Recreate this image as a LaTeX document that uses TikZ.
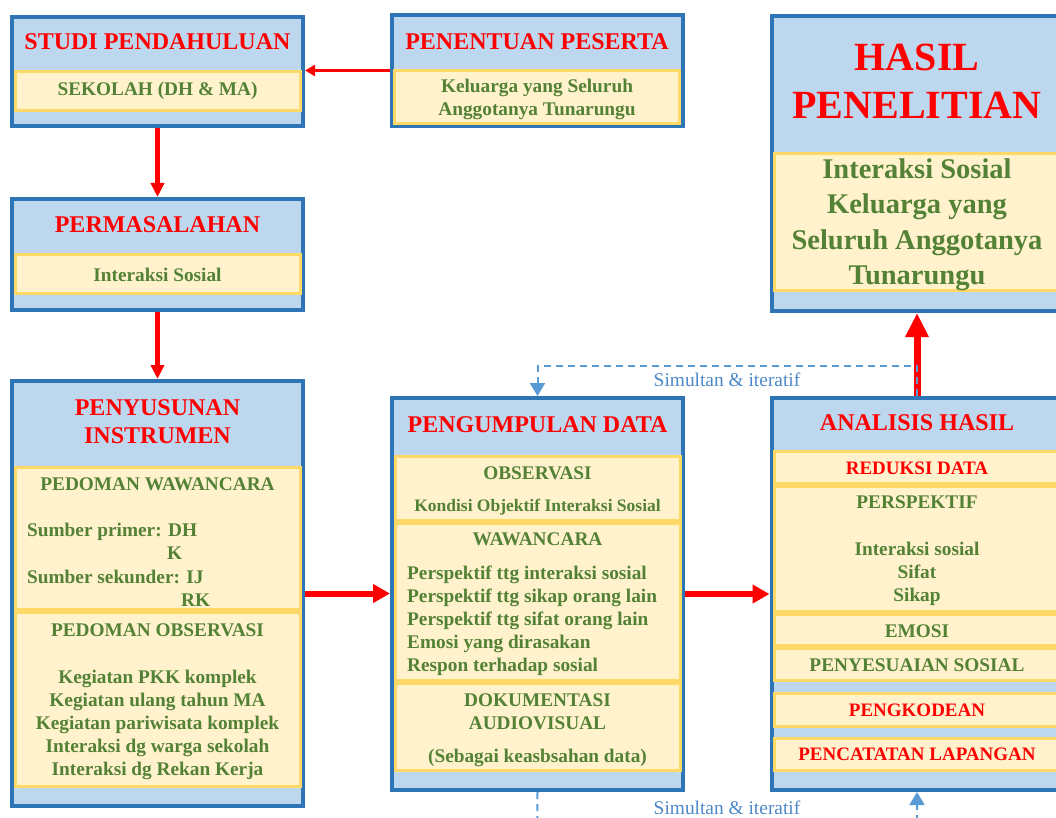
\documentclass[tikz,border=0pt]{standalone}
\usepackage{fontspec}
\setmainfont{Liberation Serif}
\usetikzlibrary{arrows.meta}
\definecolor{boxblue}{HTML}{BDD7EE}
\definecolor{edgeblue}{HTML}{2E75B6}
\definecolor{paleyellow}{HTML}{FFF2CC}
\definecolor{goldedge}{HTML}{FFD966}
\definecolor{txtgreen}{HTML}{538135}
\definecolor{dashblue}{HTML}{5B9BD5}
\definecolor{simblue}{RGB}{76,136,200}
\definecolor{pptred}{HTML}{FF0000}
\begin{document}
\begin{tikzpicture}[x=1pt,y=-1pt,
  outerbox/.style={draw=edgeblue, fill=boxblue, line width=4pt, inner sep=0pt, minimum width=291pt},
  innerbox/.style={draw=goldedge, fill=paleyellow, line width=3pt, inner sep=0pt, minimum width=285pt},
  ttl/.style={text=pptred, font=\fontsize{24}{28}\selectfont\bfseries, align=center, inner sep=0pt},
  grn/.style={text=txtgreen, font=\fontsize{19.3}{23}\selectfont\bfseries, align=center, inner sep=0pt},
  grnl/.style={text=txtgreen, font=\fontsize{19.3}{23}\selectfont\bfseries, align=left, inner sep=0pt, anchor=west},
  rsub/.style={text=pptred, font=\fontsize{19}{23}\selectfont\bfseries, align=center, inner sep=0pt},
  simlabel/.style={text=simblue, font=\fontsize{19.4}{23}\selectfont, inner sep=0pt},
  thinarrow/.style={draw=pptred, line width=3pt, -{Triangle[length=10pt,width=11pt]}},
  midarrow/.style={draw=pptred, line width=4.3pt, -{Triangle[length=14pt,width=13pt]}},
  widearrow/.style={draw=pptred, line width=6pt, -{Triangle[length=17pt,width=18pt]}},
  fatarrow/.style={draw=pptred, line width=7pt, -{Triangle[length=24pt,width=22pt]}},
  dashpath/.style={draw=dashblue, line width=2pt, dash pattern=on 7pt off 5pt, -{Triangle[length=13pt,width=15pt]}}
]
\useasboundingbox (0,0) rectangle (1056,818);
\clip (0,0) rectangle (1056,818);

% ---------- STUDI PENDAHULUAN
\node[outerbox, minimum height=109pt] (studi) at (157.5,71.5) {};
\node[innerbox, minimum height=39pt] (studiIn) at (157.5,91) {};
\node[ttl] (studiT) at (157.5,42) {STUDI PENDAHULUAN};
\node[grn] (studiX) at (157.5,91) {SEKOLAH (DH \& MA)};

% ---------- PENENTUAN PESERTA
\node[outerbox, minimum height=111pt] (penentuan) at (537,70.5) {};
\node[innerbox, minimum height=53pt] (penentuanIn) at (537,97) {};
\node[ttl] (penentuanT) at (537,42) {PENENTUAN PESERTA};
\node[grn] (penentuanX) at (537,99) {Keluarga yang Seluruh\\Anggotanya Tunarungu};

% ---------- HASIL PENELITIAN
\node[outerbox, minimum height=295pt] (hasil) at (917,163.5) {};
\node[innerbox, minimum height=137pt] (hasilIn) at (917,222) {};
\node[ttl, font=\fontsize{40}{48}\selectfont\bfseries] (hasilT) at (917,81) {HASIL\\PENELITIAN};
\node[grn, font=\fontsize{28.5}{35.5}\selectfont\bfseries] (hasilX) at (917,225) {Interaksi Sosial\\Keluarga yang\\Seluruh Anggotanya\\Tunarungu};

% ---------- PERMASALAHAN
\node[outerbox, minimum height=111pt] (masalah) at (157.5,254.5) {};
\node[innerbox, minimum height=39pt] (masalahIn) at (157.5,274) {};
\node[ttl] (masalahT) at (157.5,225) {PERMASALAHAN};
\node[grn] (masalahX) at (157.5,275) {Interaksi Sosial};

% ---------- PENYUSUNAN INSTRUMEN
\node[outerbox, minimum height=425pt] (susun) at (157.5,593.5) {};
\node[innerbox, minimum height=142pt] (susunW) at (157.5,538.5) {};
\node[innerbox, minimum height=174pt] (susunO) at (157.5,699.5) {};
\node[ttl] (susunT) at (157.5,422) {PENYUSUNAN\\INSTRUMEN};
\node[grn] (susunWT) at (157.5,484) {PEDOMAN WAWANCARA};
\node[grnl] (sumber1) at (27,532) {Sumber primer: DH};
\node[grnl] (sumber1b) at (167,553) {K};
\node[grnl] (sumber2) at (27,577) {Sumber sekunder: IJ};
\node[grnl] (sumber2b) at (181,600) {RK};
\node[grn] (susunOT) at (157.5,630) {PEDOMAN OBSERVASI};
\node[grn] (susunOX) at (157.5,725) {Kegiatan PKK komplek\\Kegiatan ulang tahun MA\\Kegiatan pariwisata komplek\\Interaksi dg warga sekolah\\Interaksi dg Rekan Kerja};

% ---------- PENGUMPULAN DATA
\node[outerbox, minimum height=392pt] (kumpul) at (537.5,594) {};
\node[innerbox, minimum height=64pt] (kumpulO) at (537.5,488.5) {};
\node[innerbox, minimum height=157pt] (kumpulW) at (537.5,602) {};
\node[innerbox, minimum height=87pt] (kumpulD) at (537.5,727) {};
\node[ttl] (kumpulT) at (537.5,425) {PENGUMPULAN DATA};
\node[grn] (kumpulOT) at (537.5,473) {OBSERVASI};
\node[grn, font=\fontsize{17.5}{21}\selectfont\bfseries] (kumpulOX) at (537.5,507) {Kondisi Objektif Interaksi Sosial};
\node[grn] (kumpulWT) at (537.5,539) {WAWANCARA};
\node[grnl] (kumpulWX) at (407,621) {Perspektif ttg interaksi sosial\\Perspektif ttg sikap orang lain\\Perspektif ttg sifat orang lain\\Emosi yang dirasakan\\Respon terhadap sosial};
\node[grn] (kumpulDT) at (537.5,711.5) {DOKUMENTASI\\AUDIOVISUAL};
\node[grn] (kumpulDX) at (537.5,758) {(Sebagai keasbsahan data)};

% ---------- ANALISIS HASIL
\node[outerbox, minimum height=392pt] (analisis) at (917,594) {};
\node[innerbox, minimum height=32pt] (anRed) at (917,467.5) {};
\node[innerbox, minimum height=125pt] (anPer) at (917,549) {};
\node[innerbox, minimum height=31pt] (anEmo) at (917,630) {};
\node[innerbox, minimum height=32pt] (anSes) at (917,664.5) {};
\node[innerbox, minimum height=33pt] (anKod) at (917,710) {};
\node[innerbox, minimum height=32pt] (anCat) at (917,754.5) {};
\node[ttl] (analisisT) at (917,423) {ANALISIS HASIL};
\node[rsub] (anRedX) at (917,468) {REDUKSI DATA};
\node[grn] (anPerT) at (917,502) {PERSPEKTIF};
\node[grn] (anPerX) at (917,574) {Interaksi sosial\\Sifat\\Sikap};
\node[grn] (anEmoX) at (917,631) {EMOSI};
\node[grn] (anSesX) at (917,665) {PENYESUAIAN SOSIAL};
\node[rsub] (anKodX) at (917,710) {PENGKODEAN};
\node[rsub] (anCatX) at (917,754) {PENCATATAN LAPANGAN};

% ---------- connectors
\draw[thinarrow] (penentuan.west) -- (studi.east |- penentuan.west);
\draw[midarrow] (studi.south) -- (masalah.north);
\draw[midarrow] (masalah.south) -- (susun.north);
\draw[widearrow] (susun.east) -- (kumpul.west |- susun.east);
\draw[widearrow] (kumpul.east) -- (analisis.west |- kumpul.east);
\draw[fatarrow] (analisis.north) -- (hasil.south);

\coordinate (topbend) at (917,366);
\coordinate (botbend) at (537,845);
\draw[dashpath] (analisis.north) -- (topbend) -| (kumpul.north);
\draw[dashpath] (kumpul.south) -- (botbend) -| (analisis.south);
\node[simlabel] (simTop) at (727,380) {Simultan \& iteratif};
\node[simlabel] (simBot) at (727,808) {Simultan \& iteratif};
\end{tikzpicture}
\end{document}
